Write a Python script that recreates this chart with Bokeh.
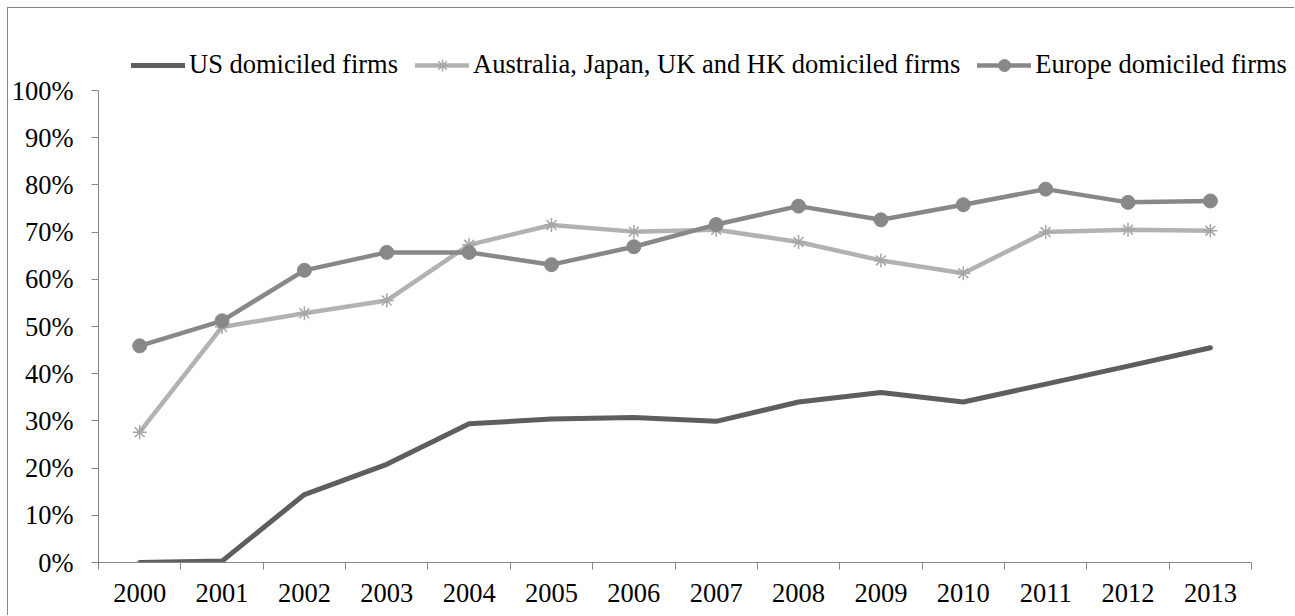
from bokeh.plotting import figure
from bokeh.models import Range1d, FixedTicker, Legend, LegendItem
from bokeh.embed import file_html
from bokeh.resources import INLINE

years = ["2000", "2001", "2002", "2003", "2004", "2005", "2006",
         "2007", "2008", "2009", "2010", "2011", "2012", "2013"]
us_firms = [0.0, 0.3, 14.4, 20.8, 29.4, 30.4, 30.7, 29.9, 34.0, 36.0, 34.0, 37.8, 41.6, 45.5]
ajuh_firms = [27.6, 49.9, 52.8, 55.5, 67.3, 71.5, 70.1, 70.5, 67.9, 64.0, 61.3, 70.0, 70.5, 70.3]
europe_firms = [45.9, 51.2, 61.9, 65.7, 65.7, 63.1, 66.9, 71.6, 75.5, 72.6, 75.8, 79.1, 76.3, 76.6]
y_ticks = [0, 10, 20, 30, 40, 50, 60, 70, 80, 90, 100]

FONT = "Liberation Serif"
FS = "26.5px"
AXIS_COLOR = "#868686"

n = len(years)
x = [i + 0.5 for i in range(n)]

# plot area: axes occupy 1155 x 472 px; extra room above/right holds the legend
W, H = 1287, 608
LEFT, BOTTOM = 88, 54
AX_W, AX_H = 1155, 472
x_max = n * (W - LEFT) / AX_W
y_max = 100 * (H - BOTTOM) / AX_H

p = figure(width=W, height=H, output_backend="svg", toolbar_location=None,
           x_range=Range1d(0, x_max), y_range=Range1d(0, y_max),
           min_border_left=LEFT, min_border_right=0, min_border_top=0, min_border_bottom=BOTTOM)
p.styles = {"border-left": "1px solid #868686", "border-top": "1px solid #868686",
            "margin-left": "7px", "margin-top": "7px"}
p.outline_line_color = None
p.xgrid.grid_line_color = None
p.ygrid.grid_line_color = None
p.background_fill_color = "white"
p.border_fill_color = "white"

# x axis: labels at category centers, tick marks between categories
xa = p.xaxis[0]
xa.bounds = (0, n)
xa.ticker = FixedTicker(ticks=x, minor_ticks=list(range(n + 1)))
xa.major_label_overrides = {xv: y for xv, y in zip(x, years)}
xa.major_tick_out = 0
xa.major_tick_in = 0
xa.minor_tick_out = 7
xa.minor_tick_in = 0
xa.minor_tick_line_color = AXIS_COLOR
xa.axis_line_color = AXIS_COLOR
xa.major_label_standoff = 14
xa.major_label_text_font = FONT
xa.major_label_text_font_size = FS
xa.major_label_text_color = "black"

ya = p.yaxis[0]
ya.bounds = (0, 100)
ya.ticker = FixedTicker(ticks=y_ticks, minor_ticks=[])
ya.major_label_overrides = {t: f"{t}%" for t in y_ticks}
ya.major_tick_out = 7
ya.major_tick_in = 0
ya.minor_tick_out = 0
ya.minor_tick_in = 0
ya.major_tick_line_color = AXIS_COLOR
ya.axis_line_color = AXIS_COLOR
ya.major_label_standoff = 18
ya.major_label_text_font = FONT
ya.major_label_text_font_size = FS
ya.major_label_text_color = "black"

US_C = "#5e5e5e"
AU_C = "#b2b2b2"
EU_C = "#888888"

r_us = p.line(x, us_firms, line_color=US_C, line_width=5, line_cap="round", line_join="round")
r_au = p.line(x, ajuh_firms, line_color=AU_C, line_width=4.5, line_cap="round", line_join="round")
r_au_m = p.scatter(x, ajuh_firms, marker="asterisk", size=14, line_color="#a6a6a6", line_width=1.5)
r_eu = p.line(x, europe_firms, line_color=EU_C, line_width=4.5, line_cap="round", line_join="round")
r_eu_m = p.scatter(x, europe_firms, marker="circle", size=14, fill_color=EU_C, line_color=EU_C)

legend = Legend(items=[
    LegendItem(label="US domiciled firms", renderers=[r_us]),
    LegendItem(label="Australia, Japan, UK and HK domiciled firms", renderers=[r_au, r_au_m]),
    LegendItem(label="Europe domiciled firms", renderers=[r_eu, r_eu_m]),
], orientation="horizontal", location=(33, 482))
legend.label_text_font = FONT
legend.label_text_font_size = FS
legend.label_text_color = "black"
legend.glyph_width = 54
legend.glyph_height = 30
legend.label_height = 30
legend.label_standoff = 4
legend.spacing = 17
legend.padding = 0
legend.margin = 0
legend.border_line_color = None
legend.background_fill_alpha = 0
p.add_layout(legend, "center")

open("out.html", "w").write(file_html(p, INLINE))
